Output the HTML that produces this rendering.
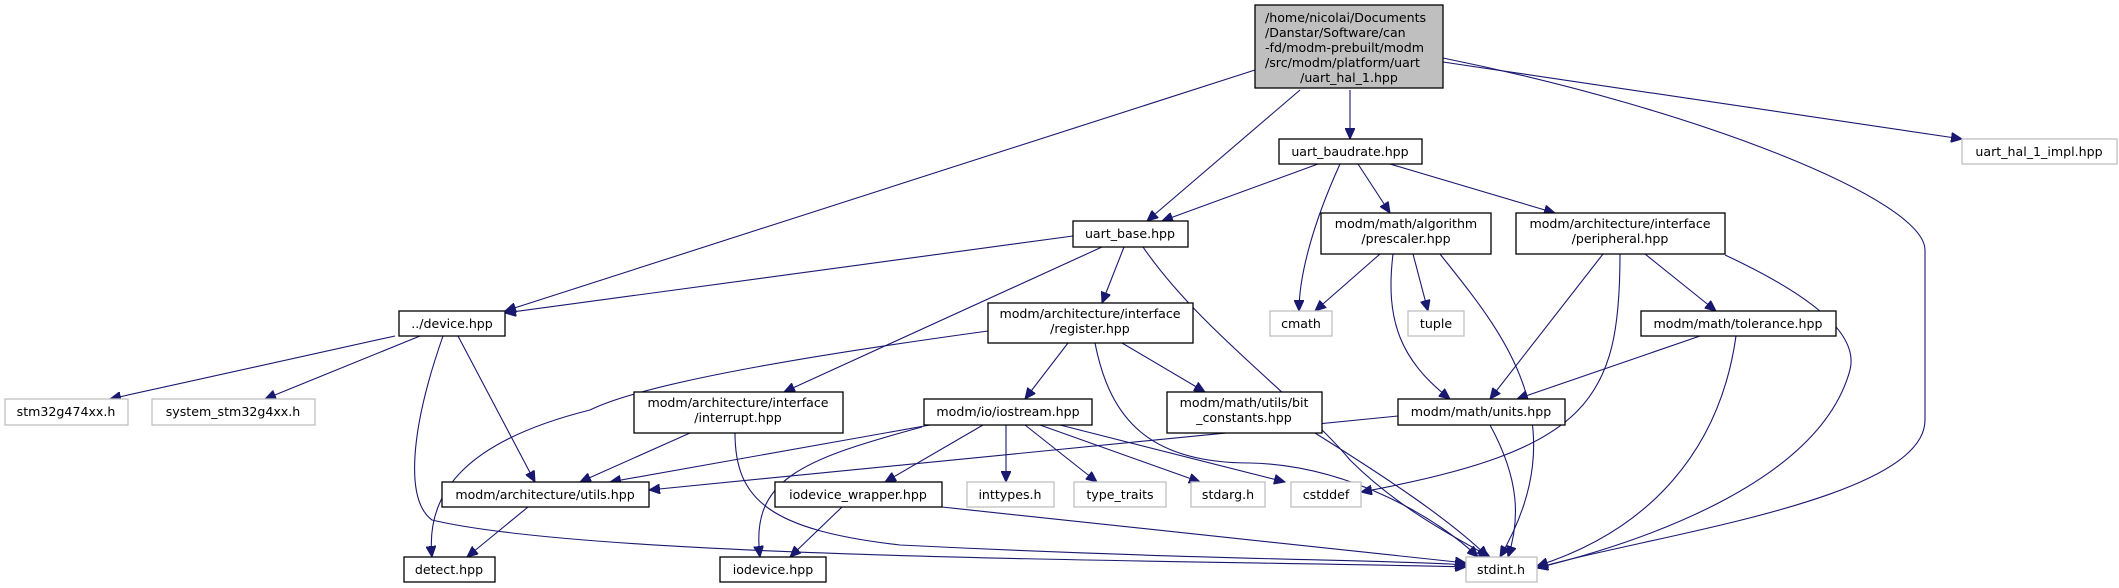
<!DOCTYPE html>
<html><head><meta charset="utf-8"><style>
html,body{margin:0;padding:0;background:#fff;}
svg{display:block;}
text{font-family:"DejaVu Sans","Liberation Sans",sans-serif;font-size:12.6px;fill:#000;}
.n{fill:#fff;stroke:#000;stroke-width:1.3;}
.g{fill:#fff;stroke:#bfbfbf;stroke-width:1.3;}
.e{fill:none;stroke:#191970;stroke-width:1.1;}
</style></head><body>
<svg width="2119" height="588" viewBox="0 0 2119 588" xmlns="http://www.w3.org/2000/svg">
<defs>
<marker id="a" markerUnits="userSpaceOnUse" markerWidth="12" markerHeight="10" refX="11" refY="5" orient="auto">
<path d="M0,0 L11,5 L0,10 z" fill="#191970" stroke="#191970"/>
</marker>
</defs>
<g marker-end="url(#a)">
<path class="e" d="M1255,70 L505,311"/>
<path class="e" d="M1300,90 L1147,221"/>
<path class="e" d="M1350,90 L1350,139"/>
<path class="e" d="M1443,62 L1962,139"/>
<path class="e" d="M1443,58 C1700,110 1925,200 1925,250 L1925,420 C1925,500 1650,535 1537,568"/>
<path class="e" d="M1318,164 L1162,221"/>
<path class="e" d="M1340,164 C1310,230 1299,280 1299,311"/>
<path class="e" d="M1358,164 L1390,213"/>
<path class="e" d="M1390,164 L1555,213"/>
<path class="e" d="M1073,236 L505,313"/>
<path class="e" d="M1102,247 L784,392"/>
<path class="e" d="M1124,247 L1102,303"/>
<path class="e" d="M1143,247 C1200,330 1300,400 1350,460 C1400,510 1460,540 1490,557"/>
<path class="e" d="M988,331 C850,350 650,380 590,410 C470,440 425,490 432,557"/>
<path class="e" d="M1068,343 L1025,399"/>
<path class="e" d="M1122,343 L1205,392"/>
<path class="e" d="M1095,343 C1110,420 1150,463 1250,463 C1350,465 1440,520 1478,557"/>
<path class="e" d="M1380,254 L1315,311"/>
<path class="e" d="M1413,254 L1428,311"/>
<path class="e" d="M1393,254 C1385,320 1400,360 1450,399"/>
<path class="e" d="M1440,254 C1500,330 1580,420 1500,557"/>
<path class="e" d="M1603,254 L1490,399"/>
<path class="e" d="M1620,254 C1620,400 1590,450 1361,492"/>
<path class="e" d="M1645,254 L1716,311"/>
<path class="e" d="M1725,255 C1800,290 1860,330 1850,370 C1820,480 1650,540 1537,568"/>
<path class="e" d="M1700,336 L1517,399"/>
<path class="e" d="M1736,336 C1720,450 1650,530 1537,566"/>
<path class="e" d="M395,336 L110,399"/>
<path class="e" d="M420,336 L265,399"/>
<path class="e" d="M458,336 L535,482"/>
<path class="e" d="M443,336 C410,430 405,500 432,520 C600,560 1200,560 1466,567"/>
<path class="e" d="M690,433 L580,482"/>
<path class="e" d="M735,433 C735,500 770,530 900,545 C1200,560 1400,560 1466,565"/>
<path class="e" d="M930,425 L610,482"/>
<path class="e" d="M922,427 C800,460 750,480 760,557"/>
<path class="e" d="M983,425 L885,482"/>
<path class="e" d="M1006,425 L1006,482"/>
<path class="e" d="M1025,425 L1097,482"/>
<path class="e" d="M1040,425 L1200,482"/>
<path class="e" d="M1060,425 L1285,482"/>
<path class="e" d="M1398,416 L649,490"/>
<path class="e" d="M1490,425 C1520,480 1520,520 1508,557"/>
<path class="e" d="M1315,433 C1390,480 1450,520 1488,557"/>
<path class="e" d="M842,507 L790,557"/>
<path class="e" d="M942,507 L1466,563"/>
<path class="e" d="M528,507 L467,557"/>
</g>
<!-- nodes -->
<rect x="1255" y="5" width="188" height="83" fill="#bfbfbf" stroke="#000" stroke-width="1.3"/>
<text x="1265" y="22">/home/nicolai/Documents</text>
<text x="1265" y="37">/Danstar/Software/can</text>
<text x="1265" y="52">-fd/modm-prebuilt/modm</text>
<text x="1265" y="67">/src/modm/platform/uart</text>
<text x="1349" y="82" text-anchor="middle">/uart_hal_1.hpp</text>

<g text-anchor="middle">
<rect class="n" x="1279" y="139" width="143" height="25"/><text x="1350" y="156">uart_baudrate.hpp</text>
<rect class="g" x="1962" y="139" width="155" height="25"/><text x="2039" y="156" style="fill:#000">uart_hal_1_impl.hpp</text>
<rect class="n" x="1073" y="221" width="115" height="26"/><text x="1130" y="238">uart_base.hpp</text>
<rect class="n" x="1321" y="213" width="170" height="41"/><text x="1406" y="228">modm/math/algorithm</text><text x="1406" y="243">/prescaler.hpp</text>
<rect class="n" x="1516" y="213" width="209" height="41"/><text x="1620" y="228">modm/architecture/interface</text><text x="1620" y="243">/peripheral.hpp</text>
<rect class="n" x="399" y="311" width="106" height="25"/><text x="452" y="328">../device.hpp</text>
<rect class="n" x="988" y="303" width="205" height="40"/><text x="1090" y="318">modm/architecture/interface</text><text x="1090" y="333">/register.hpp</text>
<rect class="g" x="1270" y="311" width="62" height="25"/><text x="1301" y="328">cmath</text>
<rect class="g" x="1408" y="311" width="56" height="25"/><text x="1436" y="328">tuple</text>
<rect class="n" x="1641" y="311" width="195" height="25"/><text x="1738" y="328">modm/math/tolerance.hpp</text>
<rect class="g" x="5" y="399" width="123" height="26"/><text x="66" y="416">stm32g474xx.h</text>
<rect class="g" x="152" y="399" width="163" height="26"/><text x="233" y="416">system_stm32g4xx.h</text>
<rect class="n" x="634" y="392" width="209" height="41"/><text x="738" y="407">modm/architecture/interface</text><text x="738" y="422">/interrupt.hpp</text>
<rect class="n" x="924" y="399" width="168" height="26"/><text x="1008" y="416">modm/io/iostream.hpp</text>
<rect class="n" x="1167" y="392" width="155" height="41"/><text x="1244" y="407">modm/math/utils/bit</text><text x="1244" y="422">_constants.hpp</text>
<rect class="n" x="1398" y="399" width="167" height="26"/><text x="1481" y="416">modm/math/units.hpp</text>
<rect class="n" x="442" y="482" width="207" height="25"/><text x="545" y="499">modm/architecture/utils.hpp</text>
<rect class="n" x="775" y="482" width="167" height="25"/><text x="858" y="499">iodevice_wrapper.hpp</text>
<rect class="g" x="967" y="482" width="87" height="25"/><text x="1010" y="499">inttypes.h</text>
<rect class="g" x="1074" y="482" width="92" height="25"/><text x="1120" y="499">type_traits</text>
<rect class="g" x="1191" y="482" width="74" height="25"/><text x="1228" y="499">stdarg.h</text>
<rect class="g" x="1291" y="482" width="70" height="25"/><text x="1326" y="499">cstddef</text>
<rect class="n" x="404" y="557" width="91" height="25"/><text x="449" y="574">detect.hpp</text>
<rect class="n" x="720" y="557" width="106" height="25"/><text x="773" y="574">iodevice.hpp</text>
<rect class="g" x="1466" y="557" width="71" height="25"/><text x="1501" y="574">stdint.h</text>
</g>
</svg>
</body></html>
